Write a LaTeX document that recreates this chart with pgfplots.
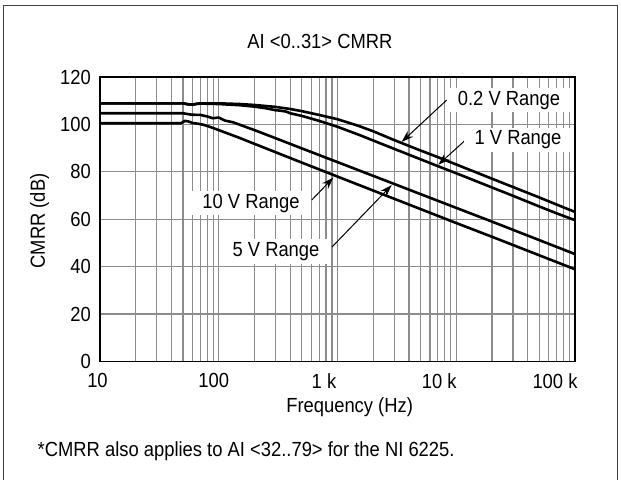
\documentclass[border=0pt]{standalone}
\usepackage{fontspec}
\setmainfont{Liberation Sans}[FakeStretch=0.9]
\usepackage{pgfplots}
\pgfplotsset{compat=1.18}
\usetikzlibrary{arrows.meta}

% tick label shifted sideways from its tick
\newcommand{\xl}[2]{\makebox[0pt][l]{\hspace*{#1}\makebox[0pt]{#2}}}
\tikzset{curve/.style={black,line width=2.6bp,line join=round,mark=none}}

\begin{document}
\begin{tikzpicture}[font=\fontsize{20.5}{24}\selectfont]
\path[use as bounding box] (0bp,0bp) rectangle (621bp,480bp);
\draw[line width=1.6bp,black!75] (3.5bp,0bp) -- (3.5bp,474.5bp) -- (617.5bp,474.5bp) -- (617.5bp,0bp);

\begin{axis}[
    at={(100bp,118.5bp)}, anchor=south west,
    scale only axis, width=475bp, height=284.5bp,
    xmode=log, xmin=10, xmax=100000,
    ymin=0, ymax=120, ytick={0,20,...,120},
    xtick={10,100,1000,10000,100000},
    xticklabels={\xl{-2.5bp}{10},\xl{-5bp}{100},\xl{-13.5bp}{1 k},\xl{-17bp}{10 k},\xl{-20bp}{100 k}},
    /pgf/number format/assume math mode=true,
    grid=both,
    major grid style={black!45,line width=1.2bp},
    minor grid style={black!45,line width=1.2bp},
    major tick length=0pt, minor tick length=0pt,
    axis line style={black,line width=1.4bp},
    xticklabel style={anchor=north,inner sep=0pt,yshift=-12bp},
    yticklabel style={anchor=east,inner sep=0pt,xshift=-9bp},
    title={AI <0..31> CMRR},
    title style={at={(rel axis cs:0.463,1.105)},anchor=center,inner sep=0pt},
    xlabel={Frequency (Hz)},
    xlabel style={at={(rel axis cs:0.5255,-0.16)},anchor=center,inner sep=0pt},
    ylabel={CMRR (dB)},
    ylabel style={at={(rel axis cs:-0.127,0.494)},anchor=center,inner sep=0pt},
]
% 0.2 V Range
\addplot[curve] coordinates {(10,108.9)(50,108.9)(55,108.5)(60,108.4)(65,108.7)(70,108.9)(100,108.9)(150,108.6)(200,108.2)(300,107.4)(400,106.5)(500,105.6)(700,104.0)(1000,102.2)(1500,99.4)(2000,97.1)(3000,93.4)(5000,89.0)(7000,86.2)(10000,83.1)(20000,77.1)(30000,73.6)(50000,69.2)(70000,66.2)(100000,63.1)};
% 1 V Range
\addplot[curve] coordinates {(10,108.9)(50,108.9)(55,108.5)(60,108.3)(65,108.6)(70,108.8)(100,108.6)(150,108.1)(200,107.5)(250,106.8)(300,106.0)(330,105.8)(370,105.4)(400,104.7)(500,103.6)(700,101.5)(1000,99.0)(1500,95.7)(2000,93.2)(3000,89.7)(5000,85.3)(7000,82.4)(10000,79.4)(20000,73.4)(30000,69.9)(50000,65.4)(70000,62.5)(100000,59.6)};
% 5 V Range
\addplot[curve] coordinates {(10,104.7)(50,104.7)(59,104.1)(70,104.0)(81,103.3)(89,102.6)(100,102.9)(113,101.6)(132,100.9)(200,97.6)(300,94.2)(500,89.9)(1000,84.1)(2000,78.3)(5000,70.6)(10000,64.8)(20000,59.0)(50000,51.2)(100000,45.3)};
% 10 V Range
\addplot[curve] coordinates {(10,100.5)(48,100.5)(52,101.5)(56,101.2)(60,100.6)(67,100.3)(75,99.8)(85,98.9)(100,97.6)(150,94.3)(200,91.8)(300,88.3)(500,83.9)(1000,78.0)(2000,72.1)(5000,64.3)(10000,58.4)(20000,52.6)(50000,44.8)(100000,38.9)};

\begin{scope}[line width=1bp,-{Stealth[length=12bp,width=8bp]}]
\draw (axis cs:8320,110.3) -- (axis cs:3470,92.6);
\draw (axis cs:12200,93.8) -- (axis cs:7060,83.0);
\draw (axis cs:607,68.1) -- (axis cs:923,77.6);
\draw (axis cs:899,48.3) -- (axis cs:2860,74.4);
\end{scope}
\end{axis}

\begin{scope}[every node/.style={fill=white,inner xsep=11bp,inner ysep=3bp}]
\node at (509bp,380bp) {0.2 V Range};
\node at (518bp,340bp) {1 V Range};
\node at (251bp,277bp) {10 V Range};
\node at (276bp,228.5bp) {5 V Range};
\end{scope}
\node[anchor=west,inner sep=0pt] at (37.5bp,29bp) {*CMRR also applies to AI <32..79> for the NI 6225.};
\end{tikzpicture}
\end{document}
